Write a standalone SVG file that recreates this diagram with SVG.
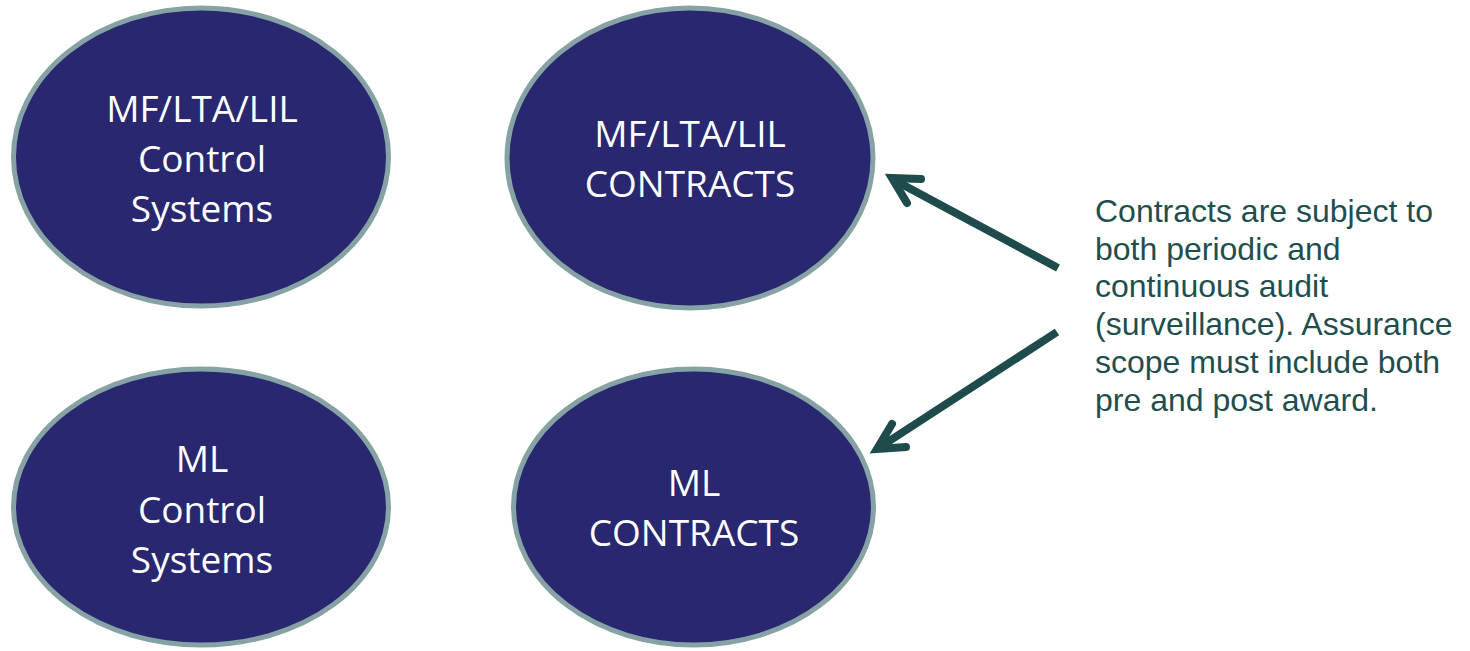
<svg xmlns="http://www.w3.org/2000/svg" width="1470" height="651" viewBox="0 0 1470 651">
<style>
.node{fill:#28276f;stroke:#87a2a4;stroke-width:5}
.lbl{font-family:"Open Sans","Noto Sans",sans-serif;font-size:37px;fill:#ffffff;text-anchor:middle}
.note{font-family:"Liberation Sans",Arial,sans-serif;font-size:32px;fill:#1f4e4f}
.arr{fill:none;stroke:#1f4b4d;stroke-width:8;stroke-linecap:butt}
.head{fill:none;stroke:#1f4b4d;stroke-width:8;stroke-linecap:round;stroke-linejoin:miter}
</style>
<rect width="1470" height="651" fill="#ffffff"/>
<g id="node-mf-control">
<ellipse class="node" cx="201" cy="157" rx="187.5" ry="149"/>
<text class="lbl" x="202" y="122">MF/LTA/LIL</text>
<text class="lbl" x="202" y="172">Control</text>
<text class="lbl" x="202" y="222">Systems</text>
</g>
<g id="node-mf-contracts">
<ellipse class="node" cx="690" cy="158" rx="183" ry="150"/>
<text class="lbl" x="690" y="147">MF/LTA/LIL</text>
<text class="lbl" x="690" y="197">CONTRACTS</text>
</g>
<g id="node-ml-control">
<ellipse class="node" cx="201" cy="507" rx="187.5" ry="138"/>
<text class="lbl" x="202" y="472">ML</text>
<text class="lbl" x="202" y="523">Control</text>
<text class="lbl" x="202" y="573">Systems</text>
</g>
<g id="node-ml-contracts">
<ellipse class="node" cx="693.5" cy="507" rx="180" ry="138"/>
<text class="lbl" x="694" y="496">ML</text>
<text class="lbl" x="694" y="546">CONTRACTS</text>
</g>
<g id="note">
<text class="note" x="1095" y="222">Contracts are subject to</text>
<text class="note" x="1095" y="260">both periodic and</text>
<text class="note" x="1095" y="297">continuous audit</text>
<text class="note" x="1095" y="335">(surveillance). Assurance</text>
<text class="note" x="1095" y="373">scope must include both</text>
<text class="note" x="1095" y="411">pre and post award.</text>
</g>
<g id="connectors">
<line class="arr" x1="1058" y1="268" x2="894" y2="180"/>
<polyline class="head" points="921,179 892,178 907,203"/>
<line class="arr" x1="1057" y1="332" x2="880" y2="447"/>
<polyline class="head" points="892,424 877,449 906,447"/>
</g>
</svg>
